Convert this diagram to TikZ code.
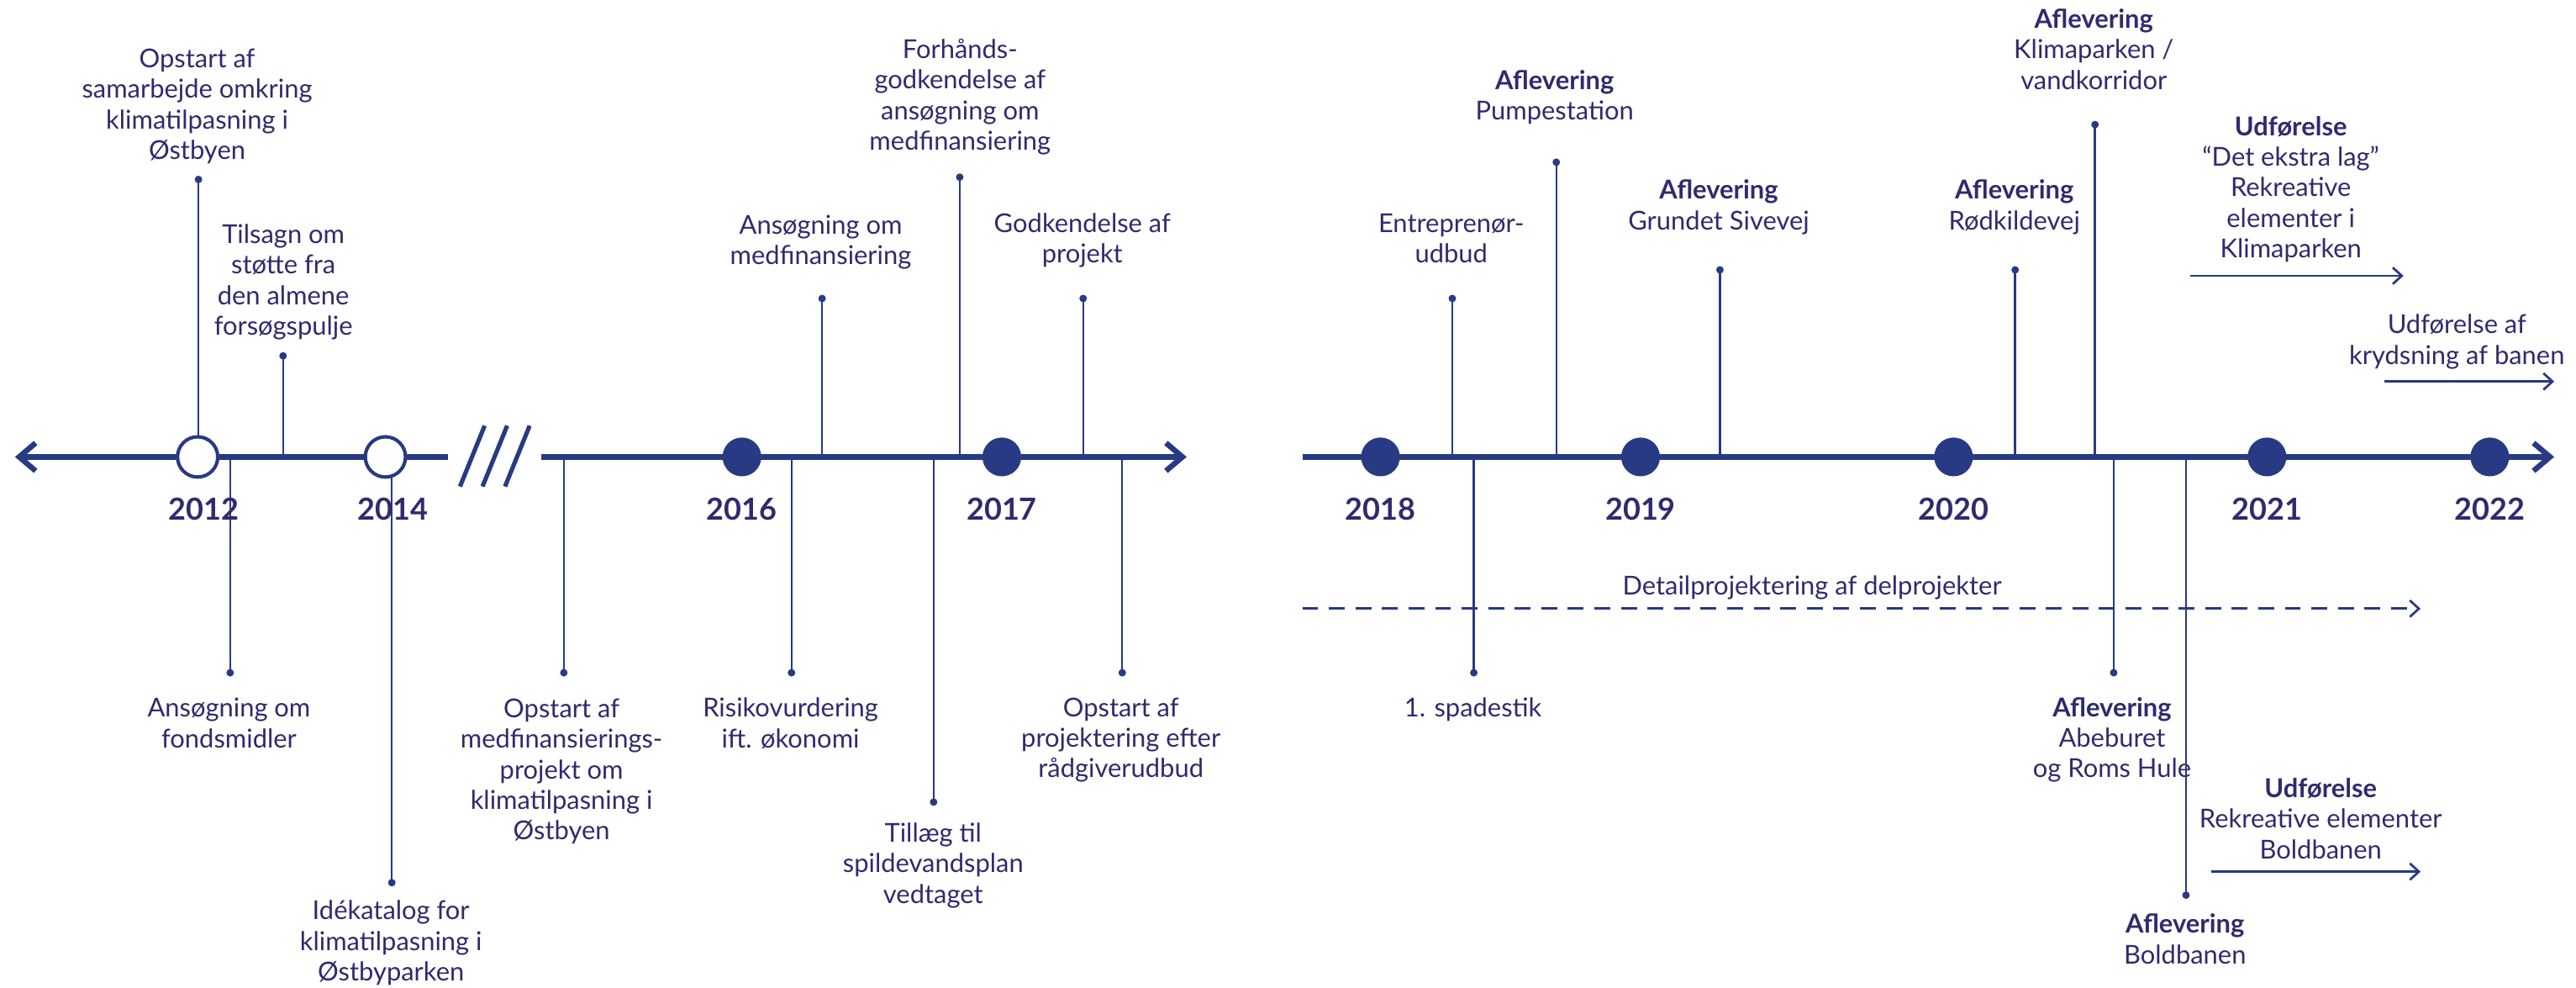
\documentclass[tikz,border=0pt]{standalone}
\usepackage{fontspec}
\setmainfont{Lato}
\usetikzlibrary{arrows.meta,calc,positioning}
\definecolor{tlblue}{RGB}{40,58,131}
\definecolor{tlink}{RGB}{46,43,110}

\begin{document}
\begin{tikzpicture}[x=0.02cm, y=-0.02cm, font=\fontsize{9}{10.6}\selectfont, text=tlink,
    axisline/.style={draw=tlblue, line width=1.9pt},
    stemline/.style={draw=tlblue, line width=0.7pt},
    spanline/.style={draw=tlblue, line width=0.8pt, -{Straight Barb[length=1.1mm,width=2mm]}},
    pindot/.style={circle, fill=tlblue, inner sep=0pt, minimum size=0.92mm},
    yeardot/.style={circle, fill=tlblue, inner sep=0pt, minimum size=4.72mm},
    yearring/.style={circle, draw=tlblue, fill=white, line width=1.2pt, inner sep=0pt, minimum size=4.9mm},
    yearlabel/.style={anchor=base, inner sep=0pt, font=\fontsize{10.5}{12}\selectfont\bfseries},
    eventlabel/.style={anchor=base, inner sep=0pt, align=center}]
  \useasboundingbox (0,0) rectangle (1568,601);
  \def\axisy{278}
  % events above the axis: stem x / pin y / label x / last baseline / text
  \foreach \x/\top/\tx/\ty/\txt [count=\i] in {
      120.8/109.2/120/96.9/{Opstart af\\samarbejde omkring\\klimatilpasning i\\Østbyen},
      172.3/216.5/172.5/204/{Tilsagn om\\støtte fra\\den almene\\forsøgspulje},
      500.4/181.6/499.6/161/{Ansøgning om\\medfinansiering},
      584.2/107.8/584.4/91.3/{Forhånds-\\godkendelse af\\ansøgning om\\medfinansiering},
      659.3/181.6/658.8/160/{Godkendelse af\\projekt},
      884/181.6/883.4/160/{Entreprenør-\\udbud},
      947.3/98.7/946.3/73/{\textbf{Aflevering}\\Pumpestation},
      1046.9/164.2/1046.2/139.8/{\textbf{Aflevering}\\Grundet Sivevej},
      1226.6/164.2/1226.1/139.8/{\textbf{Aflevering}\\Rødkildevej},
      1275.2/75.8/1274.5/54.4/{\textbf{Aflevering}\\Klimaparken /\\vandkorridor}} {
    \coordinate (upbase\i) at (\x,\axisy);
    \node[pindot] (uppin\i) at (\x,\top) {};
    \draw[stemline] (upbase\i) -- (uppin\i.center);
    \node[eventlabel] (uplabel\i) at (\tx,\ty) {\txt};
  }
  % events below the axis
  \foreach \x/\bot/\tx/\ty/\txt [count=\i] in {
      140.1/409.3/139.4/454.9/{Ansøgning om\\fondsmidler},
      238.5/537/238/596.9/{Idékatalog for\\klimatilpasning i\\Østbyparken},
      343.2/409.3/341.8/511/{Opstart af\\medfinansierings-\\projekt om\\klimatilpasning i\\Østbyen},
      481.8/409.3/481.2/454.9/{Risikovurdering\\ift. økonomi},
      568.3/488/568/549.6/{Tillæg til\\spildevandsplan\\vedtaget},
      683.1/409.3/682.3/473.2/{Opstart af\\projektering efter\\rådgiverudbud},
      897.1/409.3/896.6/436.2/{1. spadestik},
      1286.6/409.3/1285.6/473.2/{\textbf{Aflevering}\\Abeburet\\og Roms Hule},
      1330.6/544.6/1330/586.4/{\textbf{Aflevering}\\Boldbanen}} {
    \coordinate (downbase\i) at (\x,\axisy);
    \node[pindot] (downpin\i) at (\x,\bot) {};
    \draw[stemline] (downbase\i) -- (downpin\i.center);
    \node[eventlabel] (downlabel\i) at (\tx,\ty) {\txt};
  }
  % the three axis pieces
  \coordinate (leftend) at (9.1,\axisy);
  \coordinate (breakwest) at (272.7,\axisy);
  \coordinate (breakeast) at (329.4,\axisy);
  \coordinate (midend) at (722.3,\axisy);
  \coordinate (rightstart) at (792.7,\axisy);
  \coordinate (rightend) at (1554.7,\axisy);
  \draw[axisline, {Straight Barb[length=2mm,width=3.4mm]}-] (leftend) -- (breakwest);
  \draw[axisline, -{Straight Barb[length=2mm,width=3.4mm]}] (breakeast) -- (midend);
  \draw[axisline, -{Straight Barb[length=2mm,width=3.4mm]}] (rightstart) -- (rightend);
  \foreach \dx in {0,13.7,27.4}
    \draw[draw=tlblue, line width=1.5pt] (280+\dx,296) -- ++(15,-37);
  % years
  \foreach \x/\lx/\yr in {120.3/124.2/2012, 234.6/239/2014} {
    \node[yearring] (dot\yr) at (\x,\axisy) {};
    \node[yearlabel] (year\yr) at (\lx,316.3) {\yr};
  }
  \foreach \x/\yr in {451.6/2016, 609.8/2017, 840.3/2018, 998.6/2019,
                      1189.1/2020, 1379.9/2021, 1515.5/2022} {
    \node[yeardot] (dot\yr) at (\x,\axisy) {};
    \node[yearlabel] (year\yr) at (\x,316.3) {\yr};
  }
  % periods
  \coordinate (detailwest) at (792.7,370.3);
  \coordinate (detaileast) at (1473.4,370.3);
  \draw[spanline, dash pattern=on 5.5pt off 3.7pt] (detailwest) -- (detaileast);
  \node[eventlabel] (detaillabel) at (1103,361.8) {Detailprojektering af delprojekter};
  \coordinate (parkwest) at (1333.2,167.8);
  \coordinate (parkeast) at (1463,167.8);
  \draw[spanline] (parkwest) -- (parkeast);
  \node[eventlabel] (parklabel) at (1394.4,156.9)
    {\textbf{Udførelse}\\“Det ekstra lag”\\Rekreative\\elementer i\\Klimaparken};
  \coordinate (crosswest) at (1451.5,232.1);
  \coordinate (crosseast) at (1554.7,232.1);
  \draw[spanline] (crosswest) -- (crosseast);
  \node[eventlabel] (crosslabel) at (1495.5,221.6) {Udførelse af\\krydsning af banen};
  \coordinate (ballwest) at (1346.1,530.3);
  \coordinate (balleast) at (1473.4,530.3);
  \draw[spanline] (ballwest) -- (balleast);
  \node[eventlabel] (balllabel) at (1412.6,522.5)
    {\textbf{Udførelse}\\Rekreative elementer\\Boldbanen};
\end{tikzpicture}
\end{document}
